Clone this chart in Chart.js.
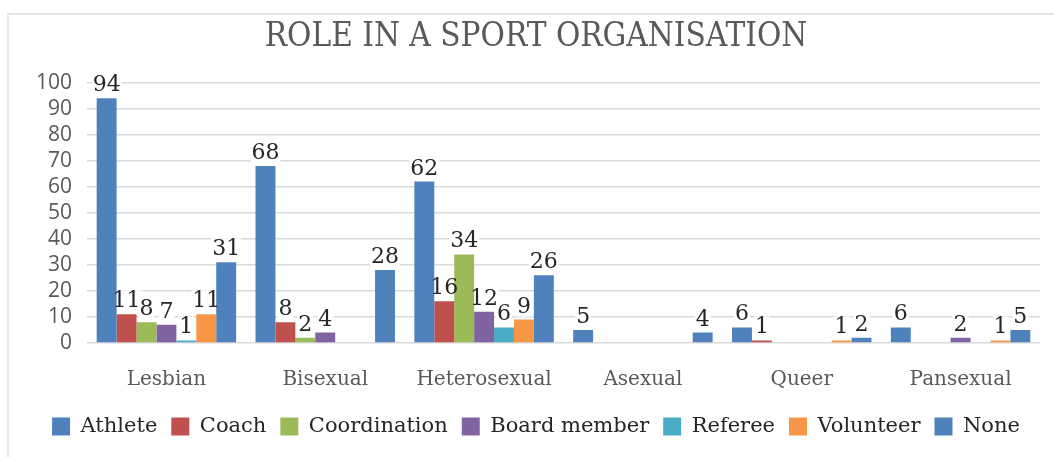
<!DOCTYPE html>
<html lang="en">

<head>
    <meta charset="utf-8">
    <title>Role in a sport organisation</title>
    <script src="https://cdn.jsdelivr.net/npm/chart.js@4.4.1/dist/chart.umd.min.js"></script>
    <style>
        html, body { margin: 0; padding: 0; background: #fff; overflow: hidden; }
        #frame {
            position: absolute; left: 7px; top: 13px; width: 1100px; height: 500px;
            border: 2px solid #e6e6e6; box-sizing: border-box;
        }
        #wrap { position: absolute; left: 0; top: 0; width: 1054px; height: 457px; }
    </style>
</head>

<body>
    <div id="frame"></div>
    <div id="wrap"><canvas id="roles" width="1054" height="457"></canvas></div>
    <script>
        const categories = ['Lesbian', 'Bisexual', 'Heterosexual', 'Asexual', 'Queer', 'Pansexual'];
        const athlete = [94, 68, 62, 5, 6, 6];
        const coach = [11, 8, 16, 0, 1, 0];
        const coordination = [8, 2, 34, 0, 0, 0];
        const boardMember = [7, 4, 12, 0, 0, 2];
        const referee = [1, 0, 6, 0, 0, 0];
        const volunteer = [11, 0, 9, 0, 1, 1];
        const none = [31, 28, 26, 4, 2, 5];

        const serif = "'DejaVu Serif', serif";
        const labelFont = '22px ' + serif;

        // value labels above bars; white box behind them hides the grid lines
        const valueLabels = {
            id: 'valueLabels',
            beforeDatasetsDraw(chart) {
                const ctx = chart.ctx;
                ctx.save();
                ctx.font = labelFont;
                ctx.fillStyle = '#fff';
                chart.data.datasets.forEach((ds, i) => {
                    chart.getDatasetMeta(i).data.forEach((bar, j) => {
                        if (!ds.data[j]) return;
                        const w = ctx.measureText(String(ds.data[j])).width;
                        ctx.fillRect(bar.x - w / 2 - 1, bar.y - 24, w + 2, 21);
                    });
                });
                ctx.restore();
            },
            afterDatasetsDraw(chart) {
                const ctx = chart.ctx;
                ctx.save();
                ctx.font = labelFont;
                ctx.fillStyle = '#262626';
                ctx.textAlign = 'center';
                ctx.textBaseline = 'alphabetic';
                chart.data.datasets.forEach((ds, i) => {
                    chart.getDatasetMeta(i).data.forEach((bar, j) => {
                        if (!ds.data[j]) return;
                        ctx.fillText(String(ds.data[j]), bar.x, bar.y - 7);
                    });
                });
                ctx.restore();
            }
        };

        const series = [
            { label: 'Athlete', data: athlete, color: '#4F81BD' },
            { label: 'Coach', data: coach, color: '#C0504D' },
            { label: 'Coordination', data: coordination, color: '#9BBB59' },
            { label: 'Board member', data: boardMember, color: '#8064A2' },
            { label: 'Referee', data: referee, color: '#4BACC6' },
            { label: 'Volunteer', data: volunteer, color: '#F79646' },
            { label: 'None', data: none, color: '#4F81BD' },
        ];

        new Chart(document.getElementById('roles'), {
            type: 'bar',
            data: {
                labels: categories,
                datasets: series.map(s => ({
                    label: s.label,
                    data: s.data,
                    backgroundColor: s.color,
                    borderColor: s.color,
                    borderWidth: 0,
                    categoryPercentage: 0.878,
                    barPercentage: 1.0,
                }))
            },
            options: {
                responsive: false,
                animation: false,
                devicePixelRatio: 1,
                layout: { padding: { left: 32, right: 14, top: 0, bottom: 10 } },
                plugins: {
                    title: {
                        display: true,
                        text: 'ROLE IN A SPORT ORGANISATION',
                        color: '#595959',
                        font: { family: "'DejaVu Serif Condensed', 'DejaVu Serif', serif", size: 33, weight: 'normal', lineHeight: 1.2 },
                        padding: { top: 18, bottom: 25 },
                    },
                    legend: {
                        position: 'bottom',
                        labels: {
                            color: '#262626',
                            font: { family: serif, size: 21 },
                            boxWidth: 18,
                            boxHeight: 18,
                            padding: 14,
                        }
                    },
                    tooltip: { enabled: false },
                },
                scales: {
                    x: {
                        grid: { display: false },
                        border: { display: false },
                        ticks: {
                            color: '#595959',
                            font: { family: serif, size: 20 },
                            padding: 17,
                            maxRotation: 0,
                        },
                        afterFit: (scale) => { scale.height = 59; },
                    },
                    y: {
                        min: 0,
                        max: 100,
                        border: { display: false },
                        grid: { color: '#d9d9d9', lineWidth: 1.5, drawTicks: false },
                        ticks: {
                            stepSize: 10,
                            autoSkip: false,
                            color: '#595959',
                            font: { family: "'Open Sans', sans-serif", size: 21, lineHeight: 1 },
                            padding: 15,
                        },
                        afterFit: (scale) => { scale.width = 55; },
                    },
                }
            },
            plugins: [valueLabels]
        });
    </script>
</body>

</html>
